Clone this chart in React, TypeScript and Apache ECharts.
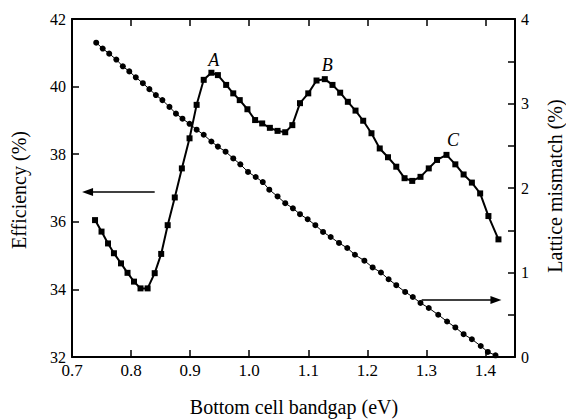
import React, { useEffect, useRef } from "react";
import * as echarts from "echarts";

const bandgapEff = [0.739, 0.750, 0.761, 0.771, 0.783, 0.794, 0.805, 0.816, 0.828, 0.840, 0.851, 0.862, 0.874, 0.886, 0.899, 0.911, 0.923, 0.936, 0.947, 0.961, 0.973, 0.984, 0.997, 1.010, 1.022, 1.035, 1.048, 1.061, 1.073, 1.086, 1.100, 1.114, 1.128, 1.141, 1.154, 1.167, 1.180, 1.193, 1.207, 1.221, 1.235, 1.249, 1.263, 1.276, 1.290, 1.304, 1.318, 1.334, 1.349, 1.363, 1.377, 1.391, 1.405, 1.422];
const efficiency = [36.05, 35.71, 35.36, 35.07, 34.77, 34.49, 34.23, 34.03, 34.03, 34.48, 35.05, 35.90, 36.72, 37.58, 38.47, 39.46, 40.20, 40.41, 40.34, 40.05, 39.80, 39.60, 39.33, 39.01, 38.91, 38.78, 38.69, 38.65, 38.86, 39.51, 39.80, 40.18, 40.22, 40.05, 39.82, 39.55, 39.29, 38.99, 38.62, 38.17, 37.91, 37.63, 37.29, 37.21, 37.33, 37.58, 37.83, 37.98, 37.70, 37.40, 37.16, 36.84, 36.17, 35.48];

const bandgapMis = [0.741, 0.752, 0.763, 0.775, 0.786, 0.797, 0.808, 0.820, 0.831, 0.842, 0.853, 0.865, 0.876, 0.887, 0.899, 0.911, 0.923, 0.936, 0.947, 0.960, 0.973, 0.985, 0.998, 1.011, 1.023, 1.034, 1.048, 1.061, 1.074, 1.086, 1.099, 1.112, 1.125, 1.138, 1.152, 1.166, 1.179, 1.195, 1.209, 1.223, 1.236, 1.249, 1.264, 1.277, 1.290, 1.304, 1.320, 1.335, 1.349, 1.363, 1.377, 1.392, 1.404, 1.417];
const mismatch = [3.72, 3.65, 3.59, 3.52, 3.44, 3.38, 3.31, 3.24, 3.17, 3.10, 3.04, 2.96, 2.88, 2.82, 2.76, 2.69, 2.63, 2.55, 2.49, 2.43, 2.35, 2.28, 2.19, 2.13, 2.07, 1.98, 1.90, 1.82, 1.76, 1.69, 1.63, 1.56, 1.48, 1.42, 1.35, 1.29, 1.21, 1.14, 1.06, 1.00, 0.92, 0.85, 0.77, 0.71, 0.64, 0.58, 0.50, 0.42, 0.35, 0.27, 0.21, 0.13, 0.06, 0.02];

const xRange = [0.7, 1.45];
const effRange = [32, 42];
const misRange = [0, 4];

const peakLabels = [
  { text: "A", x: 0.940, y: 40.79 },
  { text: "B", x: 1.132, y: 40.64 },
  { text: "C", x: 1.345, y: 38.42 },
];

const FONT = "'Liberation Serif', 'Times New Roman', serif";

export default function App() {
  const ref = useRef<HTMLDivElement>(null);

  useEffect(() => {
    if (!ref.current) return;
    const chart = echarts.init(ref.current, undefined, { renderer: "svg" });

    const axisLine = { show: true, lineStyle: { color: "#000", width: 2 } };
    const axisTick = { show: true, inside: true, length: 7, lineStyle: { color: "#000", width: 1.5 } };
    const labelStyle = { color: "#000", fontSize: 16, fontFamily: FONT };

    chart.setOption({
      animation: false,
      backgroundColor: "#fff",
      textStyle: { fontFamily: FONT },
      grid: { left: 72, top: 19, right: 51, bottom: 62 },
      xAxis: [
        {
          type: "value",
          min: xRange[0],
          max: xRange[1],
          interval: 0.1,
          position: "bottom",
          axisLine,
          axisTick,
          splitLine: { show: false },
          axisLabel: {
            ...labelStyle,
            fontSize: 17,
            lineHeight: 14,
            margin: 6,
            showMaxLabel: false,
            formatter: (v: number) => v.toFixed(1),
          },
        },
        {
          type: "value",
          min: xRange[0],
          max: xRange[1],
          interval: 0.1,
          position: "top",
          axisLine,
          axisTick,
          splitLine: { show: false },
          axisLabel: { show: false },
        },
      ],
      yAxis: [
        {
          type: "value",
          min: effRange[0],
          max: effRange[1],
          interval: 2,
          position: "left",
          axisLine,
          axisTick,
          splitLine: { show: false },
          axisLabel: { ...labelStyle, lineHeight: 11, margin: 6 },
        },
        {
          type: "value",
          min: misRange[0],
          max: misRange[1],
          interval: 1,
          position: "right",
          axisLine,
          axisTick,
          minorTick: { show: true, splitNumber: 2, length: 7, lineStyle: { color: "#000", width: 1.5 } },
          splitLine: { show: false },
          minorSplitLine: { show: false },
          axisLabel: { ...labelStyle, margin: 6 },
        },
      ],
      series: [
        {
          type: "line",
          xAxisIndex: 0,
          yAxisIndex: 0,
          data: bandgapEff.map((x, i) => [x, efficiency[i]]),
          symbol: "rect",
          symbolSize: 6,
          lineStyle: { color: "#000", width: 2 },
          itemStyle: { color: "#000" },
          z: 3,
        },
        {
          type: "line",
          xAxisIndex: 0,
          yAxisIndex: 1,
          data: bandgapMis.map((x, i) => [x, mismatch[i]]),
          symbol: "circle",
          symbolSize: 6,
          lineStyle: { color: "#000", width: 1 },
          itemStyle: { color: "#000" },
          z: 2,
        },
      ],
    });

    const pe = (x: number, y: number) => chart.convertToPixel({ xAxisIndex: 0, yAxisIndex: 0 }, [x, y]) as number[];
    const pm = (x: number, y: number) => chart.convertToPixel({ xAxisIndex: 0, yAxisIndex: 1 }, [x, y]) as number[];

    const arrow = (from: number[], to: number[]) => {
      const dir = Math.sign(to[0] - from[0]);
      const headLen = 11;
      const halfW = 4;
      return [
        {
          type: "line",
          shape: { x1: from[0], y1: from[1], x2: to[0] - dir * headLen * 0.8, y2: to[1] },
          style: { stroke: "#000", lineWidth: 1.6 },
        },
        {
          type: "polygon",
          shape: {
            points: [
              [to[0], to[1]],
              [to[0] - dir * headLen, to[1] - halfW],
              [to[0] - dir * headLen, to[1] + halfW],
            ],
          },
          style: { fill: "#000" },
        },
      ];
    };

    const leftArrow = arrow(pe(0.840, 36.88), pe(0.717, 36.88));
    const rightArrow = arrow(pm(1.292, 0.675), pm(1.427, 0.675));

    const peakTexts = peakLabels.map((p) => {
      const [px, py] = pe(p.x, p.y);
      return {
        type: "text",
        x: px,
        y: py,
        style: {
          text: p.text,
          fontSize: 18,
          fontStyle: "italic",
          fontFamily: FONT,
          fill: "#000",
          align: "center",
          verticalAlign: "middle",
        },
      };
    });

    chart.setOption({
      graphic: [
        ...leftArrow,
        ...rightArrow,
        ...peakTexts,
        {
          type: "text",
          x: 19,
          y: 190,
          rotation: Math.PI / 2,
          style: { text: "Efficiency (%)", fontSize: 20, fontFamily: FONT, fill: "#000", align: "center", verticalAlign: "middle" },
        },
        {
          type: "text",
          x: 555,
          y: 186,
          rotation: Math.PI / 2,
          style: { text: "Lattice mismatch (%)", fontSize: 20, fontFamily: FONT, fill: "#000", align: "center", verticalAlign: "middle" },
        },
        {
          type: "text",
          x: 294,
          y: 407,
          style: { text: "Bottom cell bandgap (eV)", fontSize: 20, fontFamily: FONT, fill: "#000", align: "center", verticalAlign: "middle" },
        },
      ],
    });

    return () => chart.dispose();
  }, []);

  return (
    <div
      ref={ref}
      style={{ position: "fixed", left: 0, top: 0, width: 566, height: 419 }}
    />
  );
}
